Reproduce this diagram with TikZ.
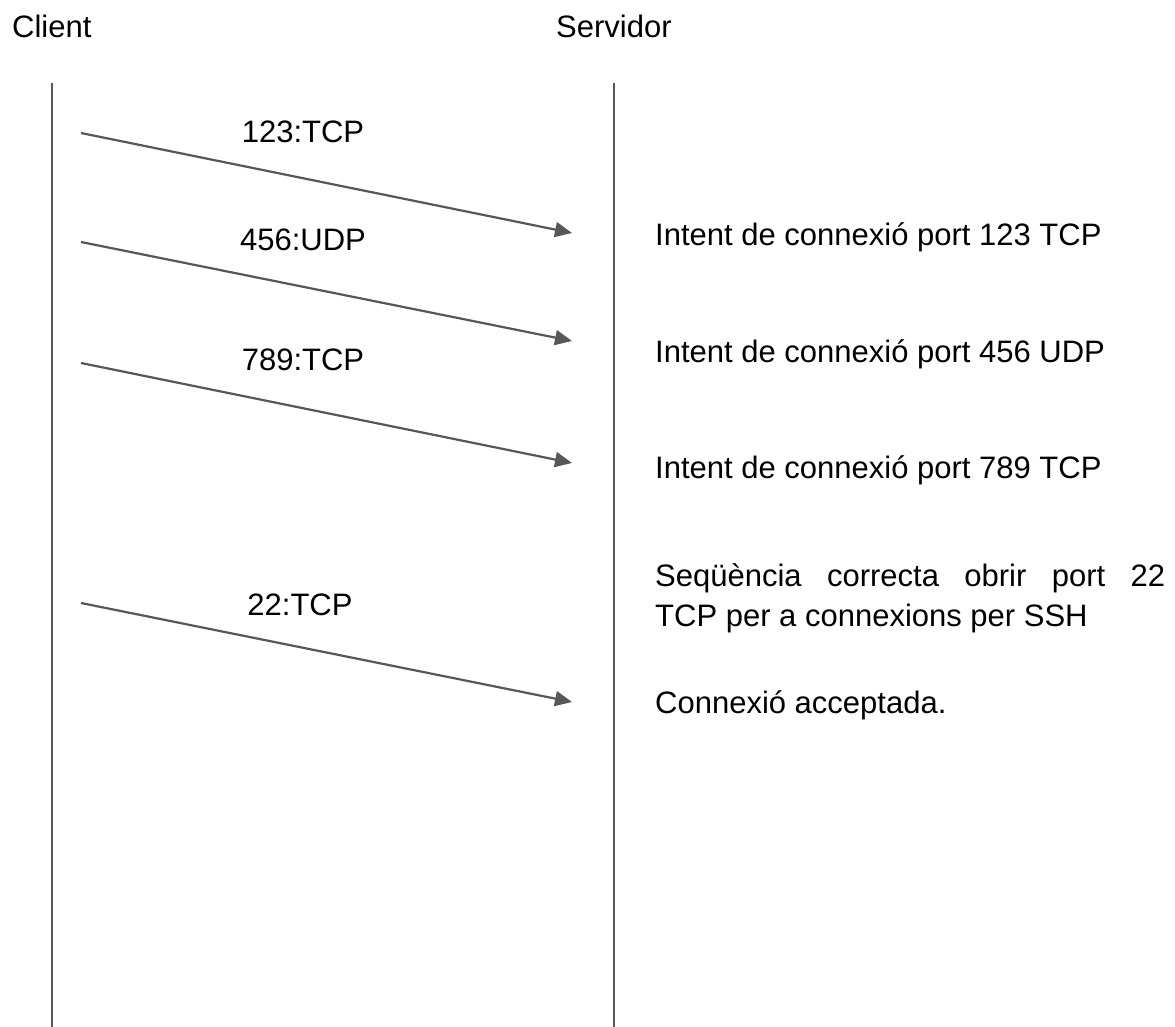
\documentclass[tikz,border=0pt]{standalone}
\usepackage{fontspec}
\setmainfont{Liberation Sans}
\usetikzlibrary{arrows.meta}

\definecolor{lineGray}{HTML}{595656}

\begin{document}
\begin{tikzpicture}[x=1pt,y=-1pt,
    lifeline/.style={draw=lineGray,line width=2.2pt},
    msg/.style={draw=lineGray,line width=2.2pt,
      -{Triangle[length=17pt,width=15pt]}},
    txt/.style={inner sep=0pt,anchor=base west,font=\fontsize{31}{40}\selectfont},
    lbl/.style={inner sep=0pt,anchor=base,font=\fontsize{31}{40}\selectfont}]
  \useasboundingbox[fill=white] (0,0) rectangle (1175,1027);

  % participants
  \node[txt] (client) at (12,38) {Client};
  \node[txt] (server) at (556,38) {Servidor};

  % lifelines
  \coordinate (cTop) at (52,83);
  \coordinate (cBot) at (52,1027);
  \coordinate (sTop) at (614,83);
  \coordinate (sBot) at (614,1027);
  \draw[lifeline] (cTop) -- (cBot);
  \draw[lifeline] (sTop) -- (sBot);

  % message end points
  \coordinate (a1) at (81,133);  \coordinate (b1) at (572,233);
  \coordinate (a2) at (81,242);  \coordinate (b2) at (572,341);
  \coordinate (a3) at (81,363);  \coordinate (b3) at (572,463);
  \coordinate (a4) at (81,603);  \coordinate (b4) at (572,702);

  \draw[msg] (a1) -- (b1);
  \draw[msg] (a2) -- (b2);
  \draw[msg] (a3) -- (b3);
  \draw[msg] (a4) -- (b4);

  % port labels
  \node[lbl] (l1) at (303,143) {123:TCP};
  \node[lbl] (l2) at (303,250) {456:UDP};
  \node[lbl] (l3) at (303,370) {789:TCP};
  \node[lbl] (l4) at (300,615) {22:TCP};

  % server notes
  \node[txt] (n1) at (655,245) {Intent de connexió port 123 TCP};
  \node[txt] (n2) at (655,362) {Intent de connexió port 456 UDP};
  \node[txt] (n3) at (655,478) {Intent de connexió port 789 TCP};
  \node[inner sep=0pt,anchor=north west,text width=510pt,align=justify,
        font=\fontsize{31}{40}\selectfont] (n4) at (655,563)
        {Seqüència correcta obrir port 22\linebreak TCP per a connexions per SSH};
  \node[txt] (n5) at (655,713) {Connexió acceptada.};
\end{tikzpicture}
\end{document}
